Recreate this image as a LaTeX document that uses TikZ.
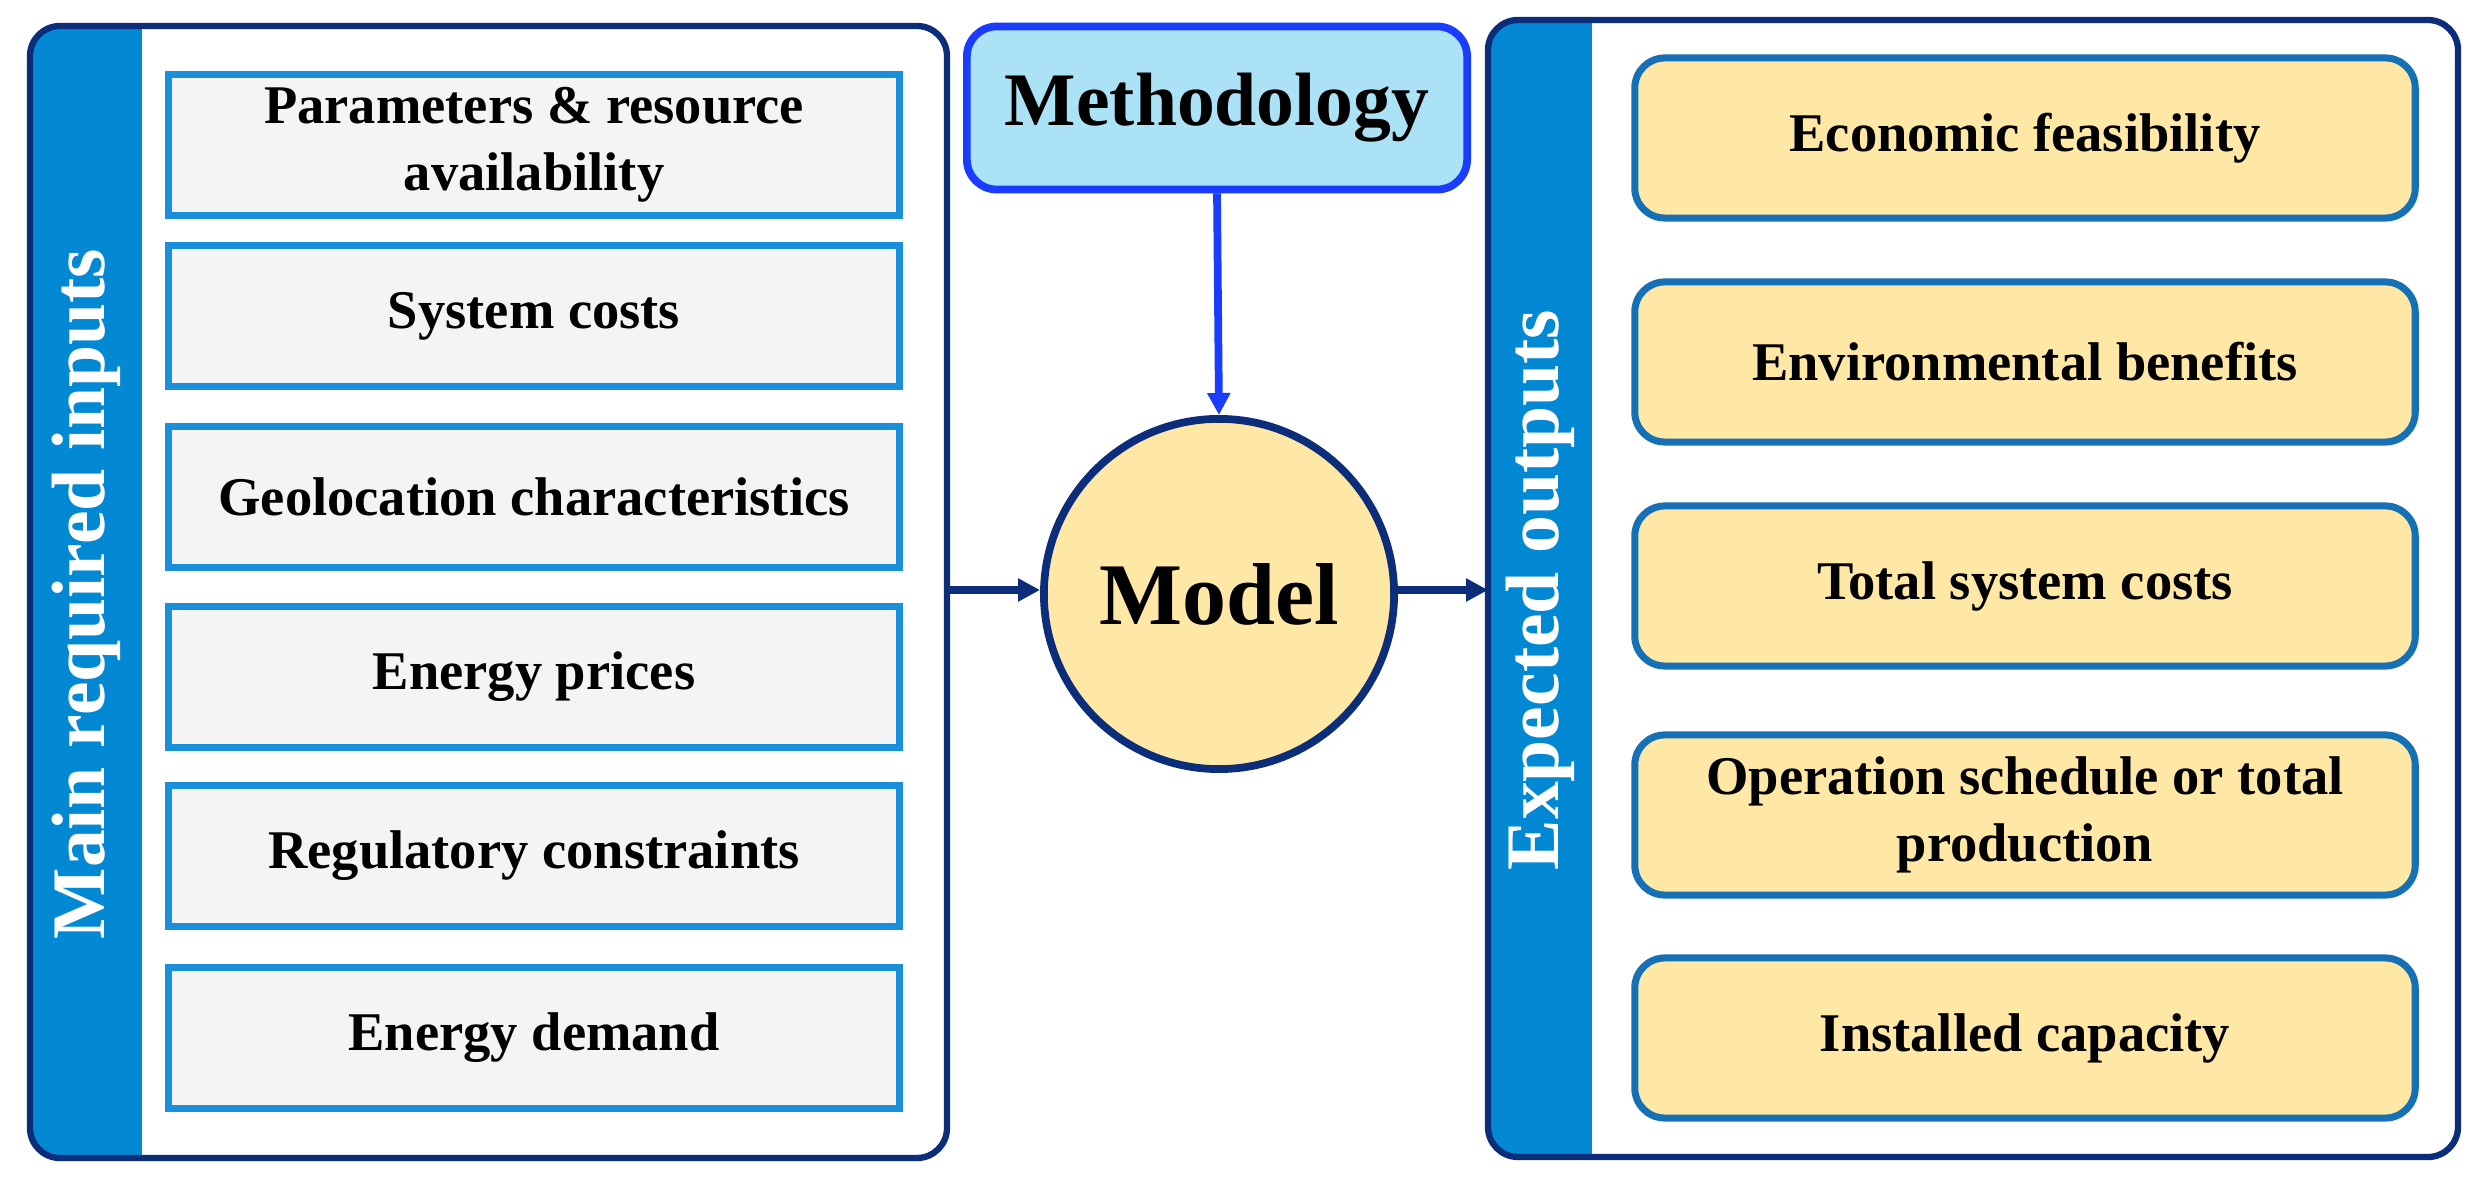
\documentclass[tikz,border=0pt]{standalone}
\usepackage{fontspec}
\setmainfont{Liberation Serif}
\usetikzlibrary{arrows.meta}
\definecolor{navy}{HTML}{0B2D7A}
\definecolor{strip}{HTML}{0388D4}
\definecolor{inbd}{HTML}{1A8FDC}
\definecolor{infill}{HTML}{F4F4F4}
\definecolor{outfill}{HTML}{FFE7A5}
\definecolor{outbd}{HTML}{1670B5}
\definecolor{methfill}{HTML}{ABE2F6}
\definecolor{methbd}{HTML}{1A3CFF}
\begin{document}
\begin{tikzpicture}[x=0.01cm,y=-0.01cm,
  panel/.style={draw=navy,line width=1.8pt,rounded corners=0.3cm},
  inbox/.style={draw=inbd,fill=infill,line width=2pt,minimum width=7.3cm,minimum height=1.4cm,align=center,font=\bfseries\fontsize{15.5}{19}\selectfont,inner sep=0pt},
  outbox/.style={draw=outbd,fill=outfill,line width=2pt,rounded corners=0.3cm,minimum width=7.8cm,minimum height=1.6cm,align=center,font=\bfseries\fontsize{15.5}{19}\selectfont,inner sep=0pt},
  side/.style={rotate=90,text=white,font=\bfseries\fontsize{21.5}{26}\selectfont},
  arr/.style={draw=navy,line width=2pt,-{Triangle[length=0.22cm,width=0.22cm]}}]
\useasboundingbox (0,0) rectangle (2479,1186);
% left panel
\begin{scope}
\clip[rounded corners=0.3cm] (30,26) rectangle (947,1158);
\fill[white] (30,26) rectangle (947,1158);
\fill[strip] (30,26) rectangle (142,1158);
\end{scope}
\draw[panel] (30,26) rectangle (947,1158);
\node[side] (inlab) at (86,594) {Main required inputs};
\node[inbox] (i1) at (534,145) {Parameters \& resource\\availability};
\node[inbox] (i2) at (534,316) {System costs};
\node[inbox] (i3) at (534,497) {Geolocation characteristics};
\node[inbox] (i4) at (534,677) {Energy prices};
\node[inbox] (i5) at (534,856) {Regulatory constraints};
\node[inbox] (i6) at (534,1038) {Energy demand};
\coordinate (lp) at (947,590);
% right panel
\begin{scope}
\clip[rounded corners=0.3cm] (1488,20) rectangle (2458,1157);
\fill[white] (1488,20) rectangle (2458,1157);
\fill[strip] (1488,20) rectangle (1592,1157);
\end{scope}
\draw[panel] (1488,20) rectangle (2458,1157);
\node[side] (outlab) at (1540,590) {Expected outputs};
\node[outbox] (o1) at (2025,138) {Economic feasibility};
\node[outbox] (o2) at (2025,362) {Environmental benefits};
\node[outbox] (o3) at (2025,586) {Total system costs};
\node[outbox] (o4) at (2025,815) {Operation schedule or total\\production};
\node[outbox] (o5) at (2025,1038) {Installed capacity};
\coordinate (rp) at (1488,590);
% middle
\node[draw=methbd,fill=methfill,line width=2.2pt,rounded corners=0.3cm,minimum width=5.0cm,minimum height=1.63cm,font=\bfseries\fontsize{21.5}{26}\selectfont] (meth) at (1217,108) {Methodology};
\node[circle,draw=navy,fill=outfill,line width=2.2pt,minimum size=3.5cm,inner sep=0pt,font=\bfseries\fontsize{25}{30}\selectfont] (model) at (1219,594) {Model};
\draw[draw=methbd,line width=2.2pt,-{Triangle[length=0.22cm,width=0.22cm]}] (meth.south) -- (model.north);
\draw[arr] (lp) -- (model.west |- lp);
\draw[arr] (model.east |- rp) -- (rp);
\end{tikzpicture}
\end{document}
